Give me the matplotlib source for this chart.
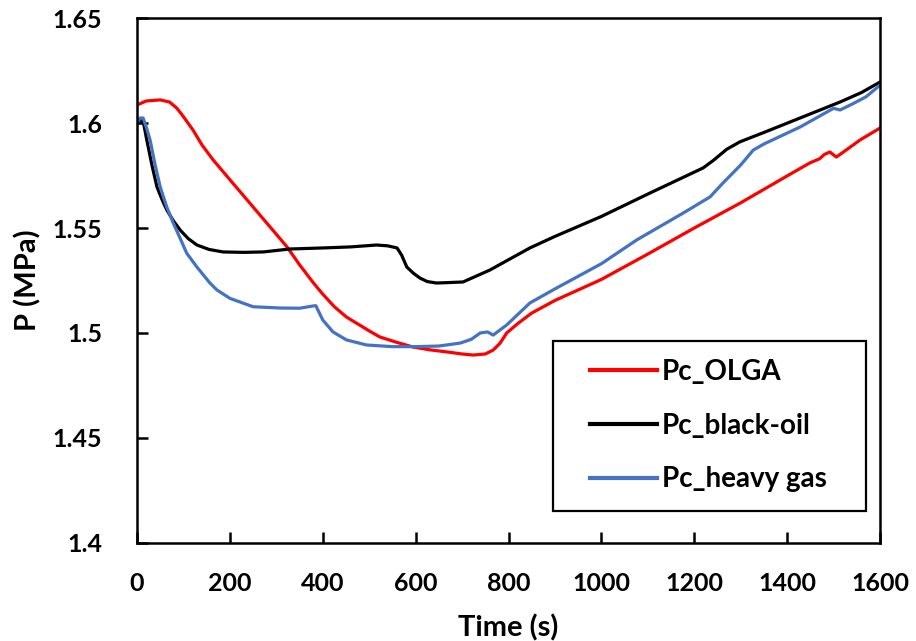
import numpy as np
import matplotlib.pyplot as plt
from matplotlib.patches import Rectangle

# Pc_OLGA
t_olga = [0, 20, 50, 70, 86, 100, 121, 140, 164, 200, 250, 300, 323, 350, 380, 400, 425, 451,
          500, 523, 560, 595, 630, 667, 700, 724, 750, 767, 782, 796, 820, 850, 900, 1000, 1100,
          1200, 1300, 1400, 1449, 1470, 1480, 1492, 1506, 1520, 1557, 1600]
p_olga = [1.6086, 1.6105, 1.611, 1.610, 1.607, 1.603, 1.5965, 1.5895, 1.5824, 1.573, 1.560,
          1.547, 1.541, 1.5325, 1.5238, 1.5185, 1.5125, 1.5076, 1.501, 1.4981, 1.4955, 1.4933,
          1.492, 1.491, 1.490, 1.4895, 1.490, 1.4919, 1.4952, 1.500, 1.5045, 1.5095, 1.5155,
          1.5255, 1.5376, 1.550, 1.562, 1.5748, 1.581, 1.583, 1.585, 1.5862, 1.5838, 1.586,
          1.5919, 1.5976]

# Pc_black-oil
t_black = [0, 8, 14, 21, 32, 43, 54, 64, 78, 93, 110, 129, 155, 185, 230, 272, 329, 400, 460,
           516, 540, 560, 570, 581, 595, 609, 625, 645, 670, 702, 760, 846, 900, 1000, 1105,
           1219, 1240, 1270, 1298, 1350, 1428, 1514, 1560, 1600]
p_black = [1.600, 1.6012, 1.600, 1.5919, 1.580, 1.5695, 1.5635, 1.5586, 1.5535, 1.549, 1.545,
           1.5419, 1.5398, 1.5386, 1.5384, 1.5386, 1.540, 1.5405, 1.541, 1.5419, 1.5415, 1.5405,
           1.537, 1.5314, 1.5285, 1.5262, 1.5245, 1.5238, 1.524, 1.5243, 1.530, 1.5405, 1.546,
           1.5555, 1.5667, 1.5786, 1.582, 1.5875, 1.591, 1.5955, 1.6024, 1.610, 1.6145, 1.6195]

# Pc_heavy gas
t_heavy = [0, 7, 13, 20, 28, 39, 50, 64, 78, 93, 107, 129, 157, 172, 200, 250, 308, 350, 380,
           385, 400, 422, 451, 494, 550, 600, 650, 696, 720, 739, 755, 767, 782, 796, 846, 900,
           1000, 1076, 1176, 1234, 1260, 1300, 1327, 1350, 1428, 1500, 1514, 1540, 1570, 1600]
p_heavy = [1.600, 1.6024, 1.6024, 1.598, 1.592, 1.580, 1.5695, 1.560, 1.5524, 1.545, 1.538,
           1.5314, 1.5238, 1.5205, 1.5165, 1.5125, 1.5119, 1.5118, 1.5129, 1.513, 1.5062,
           1.5005, 1.4967, 1.4943, 1.4935, 1.4935, 1.4938, 1.4952, 1.497, 1.500, 1.5005, 1.499,
           1.5015, 1.5038, 1.5143, 1.521, 1.533, 1.5443, 1.5571, 1.5648, 1.571, 1.580, 1.5871,
           1.590, 1.5981, 1.607, 1.6062, 1.609, 1.6125, 1.618]

plt.rcParams['font.family'] = ['Lato', 'DejaVu Sans']
plt.rcParams['font.weight'] = 'bold'

fig = plt.figure(figsize=(9.16, 6.41), dpi=100)
ax = fig.add_axes([0.1496, 0.1529, 0.8111, 0.819])

ax.plot(t_olga, p_olga, color='#FF0000', linewidth=2.3, label='Pc_OLGA')
ax.plot(t_black, p_black, color='black', linewidth=2.3, label='Pc_black-oil')
ax.plot(t_heavy, p_heavy, color='#4472C4', linewidth=2.3, label='Pc_heavy gas')

ax.set_xlim(0, 1600)
ax.set_ylim(1.4, 1.65)
ax.set_xticks(np.arange(0, 1601, 200))
ax.set_yticks([1.4, 1.45, 1.5, 1.55, 1.6, 1.65])
ax.set_yticklabels(['1.4', '1.45', '1.5', '1.55', '1.6', '1.65'])
ax.tick_params(direction='in', length=8, width=1.8, labelsize=18)
ax.tick_params(axis='x', pad=21)
ax.tick_params(axis='y', pad=25)
for s in ax.spines.values():
    s.set_linewidth(1.8)

ax.set_xlabel('Time (s)', fontsize=21, fontweight='bold', labelpad=14)
ax.set_ylabel('P (MPa)', fontsize=21, fontweight='bold', labelpad=8)

# legend box drawn separately so the inner padding matches
ax.add_patch(Rectangle((0.56, 0.061), 0.421, 0.3238, transform=ax.transAxes,
                       fill=False, edgecolor='black', linewidth=1.6, zorder=5))
leg = ax.legend(loc='upper left', bbox_to_anchor=(0.6097, 0.351), frameon=False,
                fontsize=20, labelspacing=1.0, handlelength=2.4, handletextpad=0.2,
                borderpad=0, borderaxespad=0)
for line in leg.get_lines():
    line.set_linewidth(3)

fig.savefig('out.png', dpi=100)
